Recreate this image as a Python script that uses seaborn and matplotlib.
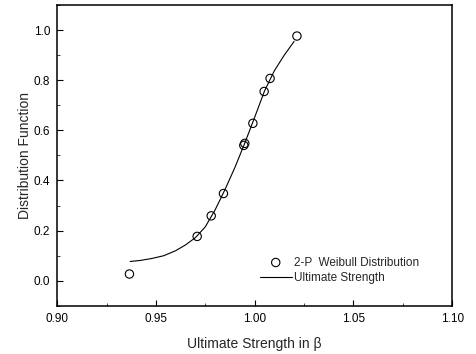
import numpy as np
import matplotlib
matplotlib.use("Agg")
import matplotlib.pyplot as plt
import seaborn as sns
from matplotlib.ticker import MultipleLocator, FormatStrFormatter

# measured points (2-P Weibull distribution)
strength_pts = [0.9366, 0.9709, 0.9780, 0.9842, 0.9945, 0.9950, 0.9991, 1.0048, 1.0078, 1.0214]
prob_pts = [0.027, 0.177, 0.259, 0.348, 0.540, 0.548, 0.628, 0.755, 0.807, 0.976]

# fitted curve
strength_fit = [0.937, 0.942, 0.948, 0.954, 0.960, 0.965, 0.970, 0.975, 0.980,
                0.985, 0.990, 0.995, 1.000, 1.005, 1.010, 1.015, 1.020]
prob_fit = [0.077, 0.081, 0.089, 0.100, 0.120, 0.143, 0.172, 0.215, 0.283,
            0.364, 0.452, 0.549, 0.652, 0.757, 0.838, 0.900, 0.955]

sns.set_style("ticks")
plt.rcParams['font.family'] = ['Liberation Sans', 'DejaVu Sans']

fig = plt.figure(figsize=(4.76, 3.54), dpi=100)
ax = fig.add_axes([0.12, 0.136, 0.83, 0.850])

sns.lineplot(x=strength_fit, y=prob_fit, ax=ax, color='black', lw=0.8,
             sort=False, label='Ultimate Strength')
sns.scatterplot(x=strength_pts, y=prob_pts, ax=ax, marker='o', s=36,
                facecolor='none', edgecolor='black', linewidth=0.8,
                label='2-P  Weibull Distribution', zorder=3)

ax.set_xlim(0.90, 1.10)
ax.set_ylim(-0.1, 1.1)
ax.xaxis.set_major_locator(MultipleLocator(0.05))
ax.xaxis.set_minor_locator(MultipleLocator(0.025))
ax.yaxis.set_major_locator(MultipleLocator(0.2))
ax.yaxis.set_minor_locator(MultipleLocator(0.1))
ax.xaxis.set_major_formatter(FormatStrFormatter('%.2f'))
ax.yaxis.set_major_formatter(FormatStrFormatter('%.1f'))
ax.tick_params(which='major', direction='in', length=4, width=0.8, labelsize=8.5,
               colors='black', pad=5)
ax.tick_params(which='minor', direction='in', length=2, width=0.6)
for s in ax.spines.values():
    s.set_linewidth(1.1)
    s.set_color('black')

ax.set_xlabel('Ultimate Strength in β', fontsize=10, labelpad=9)
ax.set_ylabel('Distribution Function', fontsize=10, labelpad=1)

h, l = ax.get_legend_handles_labels()
ax.legend(h[::-1], l[::-1], loc='center left', bbox_to_anchor=(0.513, 0.118),
          frameon=False, fontsize=8.5, handlelength=2.7, handletextpad=0.2,
          labelspacing=0.3, borderpad=0, borderaxespad=0)

plt.savefig('out.png', dpi=100)
